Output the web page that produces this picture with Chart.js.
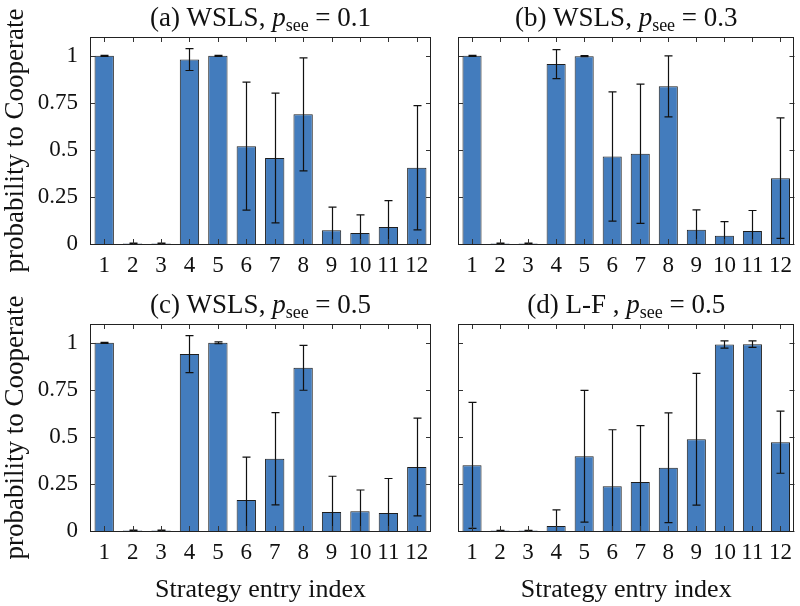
<!DOCTYPE html>
<html>
<head>
<meta charset="utf-8">
<script src="https://cdn.jsdelivr.net/npm/chart.js@4"></script>
<style>
  body { margin: 0; background: #fff; width: 800px; height: 606px; position: relative; overflow: hidden; }
  canvas { position: absolute; }
</style>
</head>
<body>
<canvas id="panelA" width="440" height="290" style="left:0;top:0"></canvas>
<canvas id="panelB" width="360" height="290" style="left:440px;top:0"></canvas>
<canvas id="panelC" width="440" height="319" style="left:0;top:287px"></canvas>
<canvas id="panelD" width="360" height="319" style="left:440px;top:287px"></canvas>
<script>
// strategy entries on the x axis
const categories = ["1", "2", "3", "4", "5", "6", "7", "8", "9", "10", "11", "12"];
const yTicks = [0, 0.25, 0.5, 0.75, 1];
const yTickLabels = ["0", "0.25", "0.5", "0.75", "1"];

// (a) WSLS, p_see = 0.1
const meanA = [1.0, 0.003, 0.003, 0.98, 1.0, 0.52, 0.457, 0.689, 0.073, 0.059, 0.091, 0.405];
const errA = [0.003, 0.002, 0.002, 0.058, 0.003, 0.34, 0.345, 0.30, 0.123, 0.096, 0.14, 0.33];
// (b) WSLS, p_see = 0.3
const meanB = [1.0, 0.003, 0.003, 0.956, 0.998, 0.465, 0.48, 0.838, 0.076, 0.044, 0.069, 0.35];
const errB = [0.003, 0.002, 0.002, 0.077, 0.003, 0.343, 0.37, 0.162, 0.105, 0.075, 0.109, 0.32];
// (c) WSLS, p_see = 0.5
const meanC = [1.0, 0.003, 0.003, 0.94, 1.0, 0.165, 0.384, 0.867, 0.101, 0.105, 0.096, 0.34];
const errC = [0.003, 0.002, 0.002, 0.098, 0.005, 0.228, 0.245, 0.119, 0.19, 0.113, 0.183, 0.26];
// (d) L-F, p_see = 0.5
const meanD = [0.349, 0.002, 0.002, 0.027, 0.397, 0.238, 0.26, 0.336, 0.488, 0.991, 0.993, 0.472];
const errD = [0.335, 0.002, 0.002, 0.085, 0.35, 0.30, 0.30, 0.292, 0.35, 0.019, 0.017, 0.165];

const panelLetters = ["(a)", "(b)", "(c)", "(d)"];
const panelRules = ["WSLS,", "WSLS,", "WSLS,", "L-F ,"];
const pSeeValues = ["0.1", "0.3", "0.5", "0.5"];

const serif = '"Liberation Serif", "Times New Roman", serif';
const barColor = "rgb(67,124,189)";
const inkColor = "#1e1e1e";

// title with italic p and subscript "see"
const titlePlugin = {
  id: "panelTitle",
  afterDraw(chart, args, opts) {
    const ctx = chart.ctx;
    const area = chart.chartArea;
    const parts = [
      { t: opts.letter + " " + opts.rule + " ", f: "27px " + serif, dy: 0 },
      { t: "p", f: "italic 27px " + serif, dy: 0 },
      { t: "see", f: "18px " + serif, dy: 5 },
      { t: " = " + opts.pSee, f: "27px " + serif, dy: 0 },
    ];
    let total = 0;
    parts.forEach((p) => {
      ctx.font = p.f;
      p.w = ctx.measureText(p.t).width;
      total += p.w;
    });
    let x = (area.left + area.right) / 2 - total / 2;
    const y = area.top - 11;
    ctx.save();
    ctx.fillStyle = "#111";
    ctx.textBaseline = "alphabetic";
    ctx.textAlign = "left";
    parts.forEach((p) => {
      ctx.font = p.f;
      ctx.fillText(p.t, x, y + p.dy);
      x += p.w;
    });
    ctx.restore();
  },
};

// box around the axes, inward ticks, error bars
const boxPlugin = {
  id: "boxAndErrors",
  afterDatasetsDraw(chart, args, opts) {
    const ctx = chart.ctx;
    const area = chart.chartArea;
    const xs = chart.scales.x;
    const ys = chart.scales.y;
    const meta = chart.getDatasetMeta(0);

    ctx.save();
    ctx.beginPath();
    ctx.rect(area.left, area.top, area.right - area.left, area.bottom - area.top);
    ctx.clip();
    ctx.strokeStyle = "#111";
    ctx.lineWidth = 1.2;
    opts.err.forEach((e, i) => {
      const v = chart.data.datasets[0].data[i];
      const x = Math.round(meta.data[i].x) + 0.5;
      const yTop = ys.getPixelForValue(v + e);
      const yBot = ys.getPixelForValue(v - e);
      ctx.beginPath();
      ctx.moveTo(x, yTop);
      ctx.lineTo(x, yBot);
      ctx.moveTo(x - 4, yTop);
      ctx.lineTo(x + 4, yTop);
      ctx.moveTo(x - 4, yBot);
      ctx.lineTo(x + 4, yBot);
      ctx.stroke();
    });
    ctx.restore();

    ctx.save();
    ctx.strokeStyle = "#333";
    ctx.lineWidth = 1;
    ctx.beginPath();
    xs.ticks.forEach((t, i) => {
      const x = Math.round(xs.getPixelForTick(i)) + 0.5;
      ctx.moveTo(x, area.bottom);
      ctx.lineTo(x, area.bottom - 5);
      ctx.moveTo(x, area.top);
      ctx.lineTo(x, area.top + 5);
    });
    yTicks.forEach((v) => {
      const y = Math.round(ys.getPixelForValue(v)) + 0.5;
      ctx.moveTo(area.left, y);
      ctx.lineTo(area.left + 5, y);
      ctx.moveTo(area.right, y);
      ctx.lineTo(area.right - 5, y);
    });
    ctx.stroke();
    ctx.strokeStyle = "#222";
    ctx.strokeRect(Math.round(area.left) + 0.5, Math.round(area.top) + 0.5,
      Math.round(area.right - area.left) - 1, Math.round(area.bottom - area.top));
    ctx.restore();
  },
};

function makePanel(id, idx, means, errs, leftSide, bottomRow) {
  const canvas = document.getElementById(id);
  return new Chart(canvas, {
    type: "bar",
    data: {
      labels: categories,
      datasets: [{
        data: means,
        backgroundColor: barColor,
        borderColor: inkColor,
        borderWidth: 1,
        barPercentage: 0.68,
        categoryPercentage: 1,
      }],
    },
    options: {
      responsive: false,
      animation: false,
      events: [],
      layout: { padding: { top: 37, right: leftSide ? 9 : 1, left: 0, bottom: 0 } },
      plugins: {
        legend: { display: false },
        tooltip: { enabled: false },
        panelTitle: { letter: panelLetters[idx], rule: panelRules[idx], pSee: pSeeValues[idx] },
        boxAndErrors: { err: errs },
      },
      scales: {
        x: {
          offset: true,
          grid: { display: false, drawTicks: false },
          border: { display: false },
          ticks: {
            color: "#111",
            font: { family: serif, size: 23 },
            padding: 8,
            maxRotation: 0,
            autoSkip: false,
          },
          title: {
            display: bottomRow,
            text: "Strategy entry index",
            color: "#111",
            font: { family: serif, size: 26 },
            padding: { top: 0, bottom: 0 },
          },
          afterFit(scale) { scale.height = bottomRow ? 75 : 46; },
        },
        y: {
          min: 0,
          max: 1.1,
          grid: { display: false, drawTicks: false },
          border: { display: false },
          afterBuildTicks(scale) { scale.ticks = yTicks.map((v) => ({ value: v })); },
          ticks: {
            display: leftSide,
            color: "#111",
            font: { family: serif, size: 23 },
            padding: 12,
            callback: (v) => yTickLabels[yTicks.indexOf(v)],
          },
          title: {
            display: leftSide,
            text: "probability to Cooperate",
            color: "#111",
            font: { family: serif, size: 27 },
            padding: { top: 0, bottom: 0 },
          },
          afterFit(scale) { scale.width = leftSide ? 90 : 18; },
        },
      },
    },
    plugins: [titlePlugin, boxPlugin],
  });
}

makePanel("panelA", 0, meanA, errA, true, false);
makePanel("panelB", 1, meanB, errB, false, false);
makePanel("panelC", 2, meanC, errC, true, true);
makePanel("panelD", 3, meanD, errD, false, true);
</script>
</body>
</html>
